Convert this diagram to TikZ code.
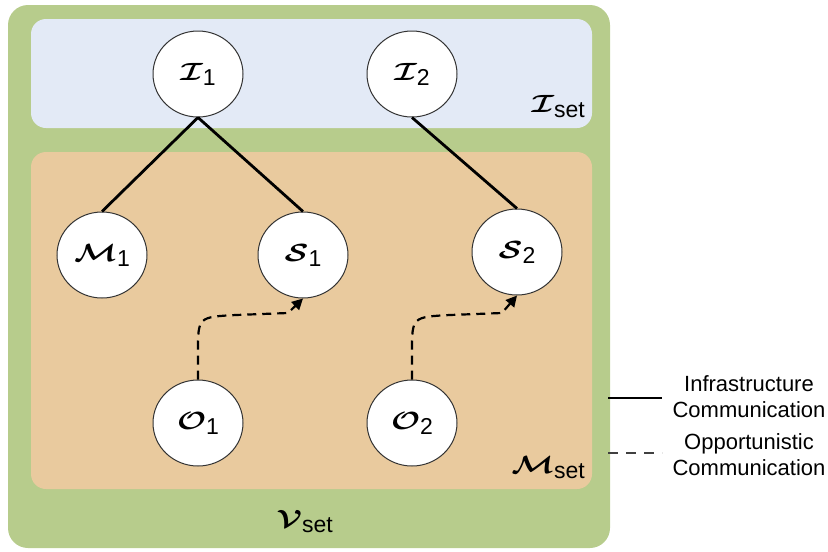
\documentclass[tikz,border=0pt]{standalone}
\usepackage{fontspec}
\setsansfont{Liberation Sans}
\usepackage{graphicx}
\usetikzlibrary{shapes.geometric,arrows.meta}
\definecolor{vgreen}{RGB}{183,204,140}
\definecolor{iblue}{RGB}{227,234,246}
\definecolor{mtan}{RGB}{233,202,158}
\newcommand{\callab}[2]{\scalebox{1.25}[1]{\fontsize{27}{27}\selectfont\boldmath$\mathcal{#1}$}\raisebox{-5pt}{\fontsize{23}{23}\selectfont\sffamily #2}}
\tikzset{
  circnode/.style={ellipse, draw=black!80, line width=1pt, fill=white, minimum width=90pt, minimum height=86pt, inner sep=0pt},
  infra/.style={line width=2.8pt, black},
  oppo/.style={line width=2.2pt, black, dash pattern=on 9pt off 6pt, -{Triangle[length=11pt,width=11pt]}},
  legtext/.style={font=\fontsize{22}{26}\selectfont\sffamily, align=center},
  setlab/.style={anchor=base east, inner sep=0pt}
}
\begin{document}
\begin{tikzpicture}[x=1pt,y=-1pt]
\useasboundingbox (0,0) rectangle (828,552);
\fill[vgreen, rounded corners=20pt] (8,5) rectangle (610,548);
\fill[iblue, rounded corners=15pt] (31,19) rectangle (592,128);
\fill[mtan, rounded corners=15pt] (31,152) rectangle (592,489);

\node[circnode] (I1) at (198,74) {\callab{I}{1}};
\node[circnode] (I2) at (412,74) {\callab{I}{2}};
\node[circnode] (M1) at (102,255) {\callab{M}{1}};
\node[circnode] (S1) at (303,255) {\callab{S}{1}};
\node[circnode] (S2) at (517,252) {\callab{S}{2}};
\node[circnode] (O1) at (198,423) {\callab{O}{1}};
\node[circnode] (O2) at (412,423) {\callab{O}{2}};

\node[setlab] (Iset) at (585,112) {\callab{I}{set}};
\node[setlab] (Mset) at (585,473) {\callab{M}{set}};
\node[setlab] (Vset) at (333,527) {\callab{V}{set}};

\draw[infra] (I1.south) -- (M1.north);
\draw[infra] (I1.south) -- (S1.north);
\draw[infra] (I2.south) -- (S2.north);

\coordinate (a1) at (198,352);
\coordinate (b1) at (236,315);
\coordinate (c1) at (288,313);
\draw[oppo] (O1.north) -- (a1) .. controls (198,317) .. (b1) -- (c1) -- (S1.south);
\coordinate (a2) at (412,352);
\coordinate (b2) at (450,315);
\coordinate (c2) at (502,313);
\draw[oppo] (O2.north) -- (a2) .. controls (412,317) .. (b2) -- (c2) -- (S2.south);

\coordinate (l1a) at (608,398);
\coordinate (l1b) at (662,398);
\coordinate (l2a) at (608,453);
\coordinate (l2b) at (662,453);
\draw[infra] (l1a) -- (l1b);
\draw[line width=1.6pt, black!75, dash pattern=on 10pt off 8pt] (l2a) -- (l2b);
\node[legtext] (leg1) at (749,397) {Infrastructure\\Communication};
\node[legtext] (leg2) at (749,455) {Opportunistic\\Communication};
\end{tikzpicture}
\end{document}
